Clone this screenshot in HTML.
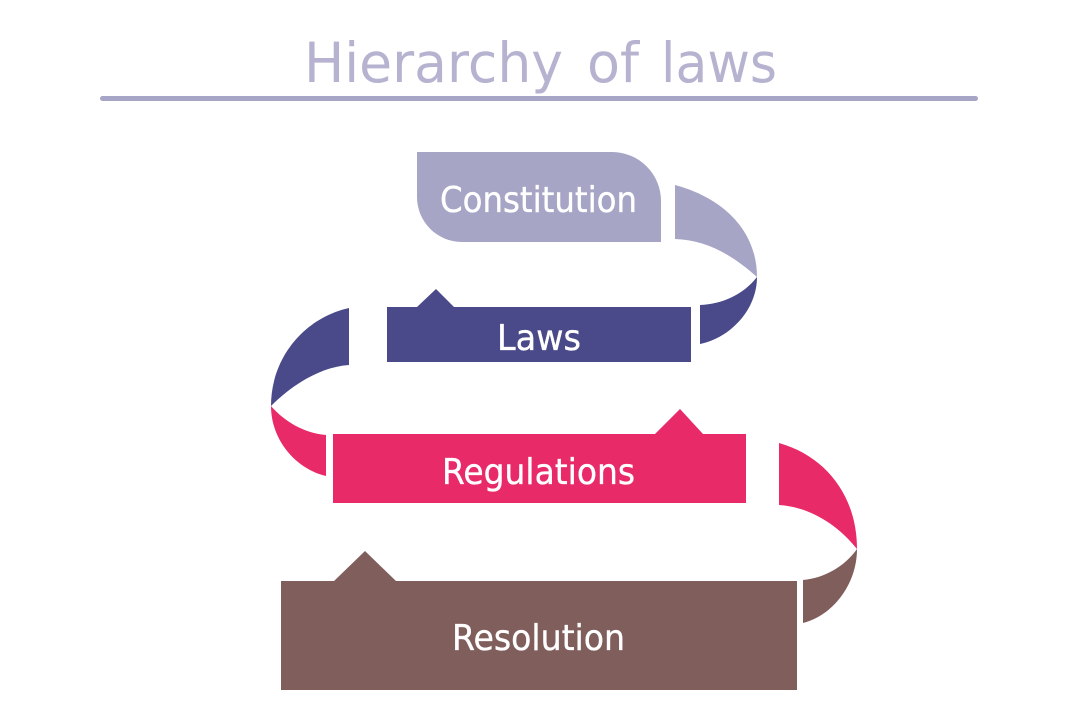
<!DOCTYPE html>
<html>
<head>
<meta charset="utf-8">
<title>Hierarchy of laws</title>
<style>
html,body{margin:0;padding:0;background:#fff;width:1078px;height:725px;overflow:hidden}
svg{display:block}
.t{font-family:"DejaVu Sans","Liberation Sans",sans-serif;fill:#fff;stroke:#fff;stroke-width:.35px;font-size:36px}
.h{font-family:"DejaVu Sans","Liberation Sans",sans-serif;fill:#b5b3d0;font-size:55px}
</style>
</head>
<body>
<svg width="1078" height="725" viewBox="0 0 1078 725" xmlns="http://www.w3.org/2000/svg">
<rect width="1078" height="725" fill="#fff"/>
<text class="h" x="304" y="82" textLength="259" lengthAdjust="spacingAndGlyphs">Hierarchy</text>
<text class="h" x="587" y="82" textLength="52" lengthAdjust="spacingAndGlyphs">of</text>
<text class="h" x="661" y="82" textLength="116" lengthAdjust="spacingAndGlyphs">laws</text>
<rect x="100" y="96" width="878" height="5" rx="2.5" fill="#a6a5c6"/>

<path d="M417 152H612A49 49 0 0 1 661 201V242H462A45 45 0 0 1 417 197Z" fill="#a6a5c6"/>
<path d="M675 185C720 197 757 228 757 277C730 253 705 240 675 239Z" fill="#a6a5c6"/>
<path d="M757 277C757 310 730 338 700 344V305C722 304 743 295 757 277Z" fill="#4a4a8a"/>
<path d="M387 307H417L436 289L454 307H691V362H387Z" fill="#4a4a8a"/>
<path d="M349 308C304 318 271 358 271 406C292 385 320 367 349 365Z" fill="#4a4a8a"/>
<path d="M271 406C271 440 296 469 326 476V435C304 433 285 422 271 406Z" fill="#e92a68"/>
<path d="M333 434H655L680 409L703 434H746V503H333Z" fill="#e92a68"/>
<path d="M779 443C825 456 857 495 857 549C838 525 810 507 779 505Z" fill="#e92a68"/>
<path d="M857 549C857 585 832 616 803 623V580C825 578 845 566 857 549Z" fill="#805e5c"/>
<path d="M281 581H334L365 551L396 581H797V690H281Z" fill="#805e5c"/>

<text class="t" x="440" y="212" textLength="197" lengthAdjust="spacingAndGlyphs">Constitution</text>
<text class="t" x="497" y="350" textLength="84" lengthAdjust="spacingAndGlyphs">Laws</text>
<text class="t" x="442" y="484" textLength="193" lengthAdjust="spacingAndGlyphs">Regulations</text>
<text class="t" x="452" y="650" textLength="173" lengthAdjust="spacingAndGlyphs">Resolution</text>
</svg>
</body>
</html>
